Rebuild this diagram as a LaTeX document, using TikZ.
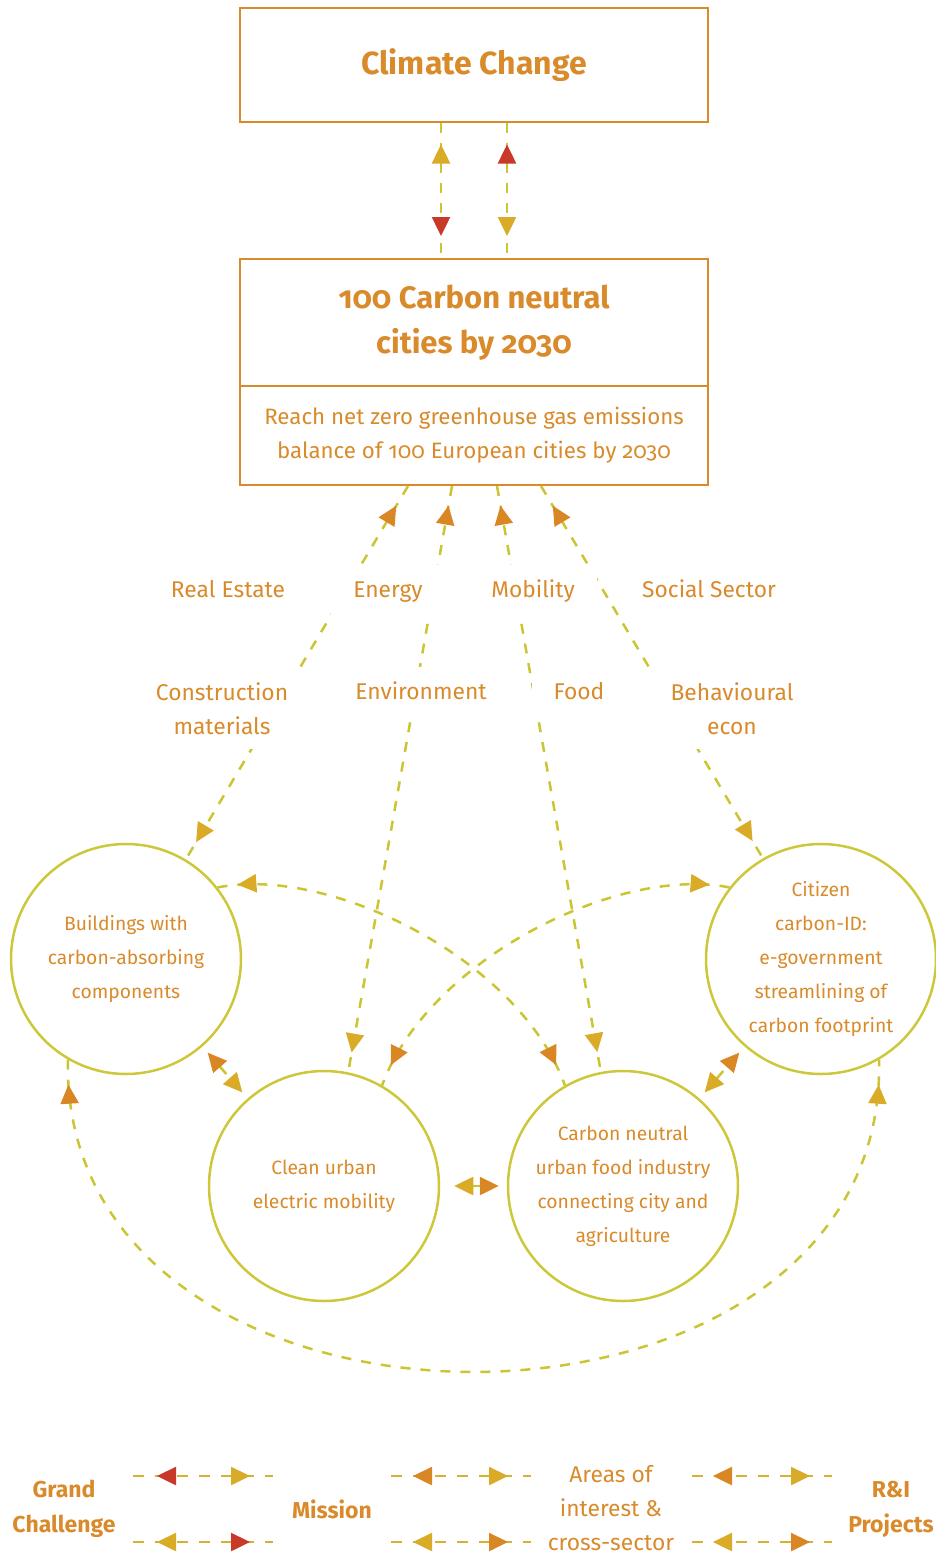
\documentclass[tikz,border=0pt]{standalone}
\usepackage{fontspec}
\setmainfont[Numbers=OldStyle]{Fira Sans}
\usetikzlibrary{arrows.meta,decorations.markings}

\definecolor{txtorange}{HTML}{D98A2B}
\definecolor{dashyel}{HTML}{CBC533}
\definecolor{ringyel}{HTML}{CDC83B}
\definecolor{leggold}{HTML}{D8B131}
\definecolor{tipgold}{HTML}{D9AB27}
\definecolor{tipred}{HTML}{C8392A}
\definecolor{tiporange}{HTML}{D98725}

\tikzset{
  gtip/.tip={Triangle[color=tipgold,length=19pt,width=18pt]},
  rtip/.tip={Triangle[color=tipred,length=19pt,width=18pt]},
  otip/.tip={Triangle[color=tiporange,length=19pt,width=18pt]},
  box/.style={draw=txtorange,line width=2pt,minimum width=468pt,inner sep=0pt,text=txtorange,align=center},
  ring/.style={circle,draw=ringyel,line width=2.5pt,minimum size=230pt,inner sep=0pt,text=txtorange,align=center,font=\fontsize{19.3}{34}\selectfont},
  conn/.style={draw=dashyel,line width=2.5pt,dash pattern=on 10pt off 10pt},
  legline/.style={draw=leggold,line width=2.5pt,dash pattern=on 11pt off 11pt},
  area/.style={text=txtorange,align=center,fill=white,inner xsep=22pt,inner ysep=14pt,font=\fontsize{22.8}{34}\selectfont},
  oneline/.style={text height=19pt,text depth=4pt},
  legtext/.style={text=txtorange,align=center},
  tipat/.style 2 args={postaction={decorate,decoration={markings,mark=at position #1 with {\arrow{#2}}}}},
  tipback/.style 2 args={postaction={decorate,decoration={markings,mark=at position #1 with {\arrowreversed{#2}}}}}
}

\begin{document}
\begin{tikzpicture}[x=1pt,y=-1pt]
\useasboundingbox (0,0) rectangle (936,1555);

% grand challenge and mission
\node[box,minimum height=113pt,font=\fontsize{32}{45}\selectfont\bfseries] (clim) at (474,65) {Climate Change};
\node[box,minimum height=127pt,font=\fontsize{31}{45}\selectfont\bfseries] (mtop) at (474,322.5) {100 Carbon neutral\\cities by 2030};
\node[box,minimum height=99pt,font=\fontsize{22.3}{34}\selectfont] (mbot) at (474,435.5) {Reach net zero greenhouse gas emissions\\balance of 100 European cities by 2030};

\draw[conn,tipback={22pt}{gtip},tipat={-22pt}{rtip}] ([xshift=-33pt]clim.south) -- ([xshift=-33pt]mtop.north);
\draw[conn,tipback={22pt}{rtip},tipat={-22pt}{gtip}] ([xshift=33pt]clim.south) -- ([xshift=33pt]mtop.north);

% projects
\node[ring] (bld) at (126,959) {Buildings with\\carbon-absorbing\\components};
\node[ring] (cit) at (821,959) {Citizen\\carbon-ID:\\e-government\\streamlining of\\carbon footprint};
\node[ring] (cln) at (324,1186) {Clean urban\\electric mobility};
\node[ring] (fod) at (623,1186) {Carbon neutral\\urban food industry\\connecting city and\\agriculture};

% mission to projects
\draw[conn,tipback={23pt}{otip},tipat={-20pt}{gtip}] ([xshift=-66pt]mbot.south) -- (bld.59);
\draw[conn,tipback={20pt}{otip},tipat={-20pt}{gtip}] ([xshift=-22pt]mbot.south) -- (cln.78);
\draw[conn,tipback={20pt}{otip},tipat={-20pt}{gtip}] ([xshift=23pt]mbot.south) -- (fod.101);
\draw[conn,tipback={23pt}{otip},tipat={-20pt}{gtip}] ([xshift=67pt]mbot.south) -- (cit.120);

% areas of interest
\node[area,oneline] (re) at (228,590) {Real Estate};
\node[area,oneline] (en) at (388,590) {Energy};
\node[area,oneline] (mo) at (533,590) {Mobility};
\node[area,oneline] (ss) at (709,590) {Social Sector};
\node[area] (cm) at (222,709) {Construction\\materials};
\node[area,oneline] (ev) at (421,692) {Environment};
\node[area,oneline] (fd) at (579,692) {Food};
\node[area] (be) at (732,709) {Behavioural\\econ};

% between projects
\draw[conn,tipback={20pt}{gtip},tipat={-22pt}{otip}] (bld.38) .. controls (330,865) and (520,960) .. (fod.120);
\draw[conn,tipback={20pt}{gtip},tipat={-22pt}{otip}] (cit.142) .. controls (618,865) and (428,960) .. (cln.60);
\draw[conn,tipback={25pt}{otip},tipat={-25pt}{gtip}] (bld.240) .. controls (60,1476) and (888,1476) .. (cit.300);
\draw[conn,otip-gtip,shorten <=8pt,shorten >=8pt] (bld) -- (cln);
\draw[conn,gtip-otip,shorten <=14pt,shorten >=8pt] (cln) -- (fod);
\draw[conn,gtip-otip,shorten <=8pt,shorten >=8pt] (fod) -- (cit);

% legend
\node[legtext,font=\fontsize{23}{35}\selectfont\bfseries] (lgc) at (64,1509) {Grand\\Challenge};
\node[legtext,font=\fontsize{23}{35}\selectfont\bfseries] (lms) at (332,1509) {Mission};
\node[legtext,font=\fontsize{22.8}{34}\selectfont] (lai) at (611,1508) {Areas of\\interest \&\\cross-sector};
\node[legtext,font=\fontsize{23}{35}\selectfont\bfseries] (lri) at (891,1509) {R\&I\\Projects};

\coordinate (a1) at (133,1476); \coordinate (b1) at (273,1476);
\coordinate (a2) at (133,1542); \coordinate (b2) at (273,1542);
\coordinate (c1) at (391,1476); \coordinate (d1) at (531,1476);
\coordinate (c2) at (391,1542); \coordinate (d2) at (531,1542);
\coordinate (e1) at (692,1476); \coordinate (f1) at (832,1476);
\coordinate (e2) at (692,1542); \coordinate (f2) at (832,1542);

\draw[legline,tipback={24pt}{rtip},tipat={-23pt}{gtip}] (a1) -- (b1);
\draw[legline,tipback={24pt}{gtip},tipat={-23pt}{rtip}] (a2) -- (b2);
\draw[legline,tipback={22pt}{otip},tipat={-23pt}{gtip}] (c1) -- (d1);
\draw[legline,tipback={22pt}{gtip},tipat={-23pt}{otip}] (c2) -- (d2);
\draw[legline,tipback={21pt}{otip},tipat={-22pt}{gtip}] (e1) -- (f1);
\draw[legline,tipback={21pt}{gtip},tipat={-22pt}{otip}] (e2) -- (f2);
\end{tikzpicture}
\end{document}
